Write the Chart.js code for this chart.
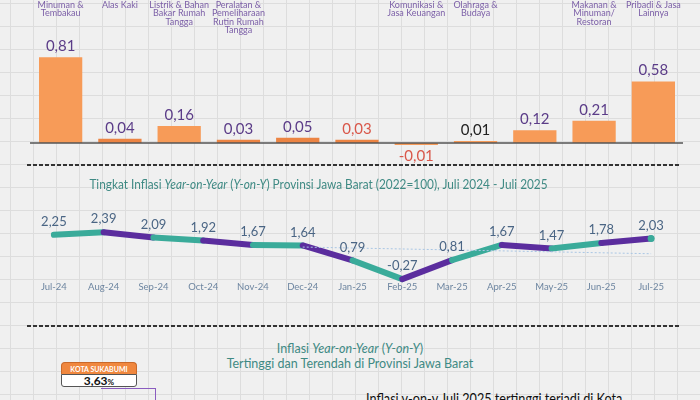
<!DOCTYPE html>
<html>
<head>
<meta charset="utf-8">
<script src="https://cdn.jsdelivr.net/npm/chart.js@4.4.1/dist/chart.umd.min.js"></script>
<style>
    html, body {
        margin: 0;
        padding: 0;
    }
    body {
        width: 700px;
        height: 400px;
        overflow: hidden;
        position: relative;
        font-family: "Lato", "Open Sans", sans-serif;
        background-color: #f0f0f0;
        background-image: linear-gradient(to right, #dddddd 1px, transparent 1px),
            linear-gradient(to bottom, #dddddd 1px, transparent 1px);
        background-size: 23px 23px;
        background-position: 10px 3px;
    }
    .box { position: absolute; }
    .dash {
        position: absolute;
        left: 27px;
        width: 653px;
        height: 2px;
        background: repeating-linear-gradient(to right, #333 0 4px, transparent 4px 6px);
    }
    .judul {
        position: absolute;
        color: #3f8a84;
        font-size: 12.5px;
        white-space: nowrap;
        text-align: center;
    }
</style>
</head>
<body>

<div class="box" style="left:0;top:0;width:700px;height:165px;">
    <canvas id="chart_kelompok" width="700" height="165"></canvas>
</div>

<div class="dash" style="top:164px;"></div>
<div class="judul" style="left:0;width:637px;top:176px;font-size:13px;transform:scaleX(0.91);transform-origin:318.5px 0;">
    Tingkat Inflasi <i>Year-on-Year</i> (<i>Y-on-Y</i>) Provinsi Jawa Barat (2022=100), Juli 2024 - Juli 2025
</div>

<div class="box" style="left:0;top:195px;width:700px;height:100px;">
    <canvas id="chart_yoy" width="700" height="100"></canvas>
</div>

<div class="dash" style="top:325px;"></div>
<div class="judul" style="left:0;width:700px;top:341px;line-height:15px;">
    Inflasi <i>Year-on-Year</i> (<i>Y-on-Y</i>)<br>Tertinggi dan Terendah di Provinsi Jawa Barat
</div>

<!-- callout kota -->
<div class="box" style="left:61px;top:362px;width:76px;height:12px;background:#f0873e;border:1px solid #c9692a;border-bottom:none;border-radius:4px 4px 0 0;box-sizing:border-box;color:#fff;font-size:7px;font-weight:bold;text-align:center;line-height:12px;">KOTA SUKABUMI</div>
<div class="box" style="left:61px;top:374px;width:76px;height:13px;background:#fff;border:1px solid #555;border-radius:0 0 3px 3px;box-sizing:border-box;color:#111;font-size:12px;font-weight:bold;text-align:center;line-height:11px;">3,63<span style="font-size:8px">%</span></div>
<div class="box" style="left:101px;top:388px;width:55px;height:0;border-top:1.5px solid #8a5cc0;"></div>
<div class="box" style="left:155px;top:388px;width:0;height:14px;border-left:1.5px solid #8a5cc0;"></div>

<div class="box" style="left:366px;top:388px;font-size:16px;line-height:20px;color:#111;white-space:nowrap;transform:scaleX(0.79);transform-origin:left top;">Inflasi y-on-y Juli 2025 tertinggi terjadi di Kota</div>

<script>
    // andil inflasi m-to-m per kelompok pengeluaran (yang terlihat di gambar)
    var label_kelompok = [
        ["Minuman &", "Tembakau"],
        ["Alas Kaki"],
        ["Listrik & Bahan", "Bakar Rumah", "Tangga"],
        ["Peralatan &", "Pemeliharaan", "Rutin Rumah", "Tangga"],
        [],
        [],
        ["Komunikasi &", "Jasa Keuangan"],
        ["Olahraga &", "Budaya"],
        [],
        ["Makanan &", "Minuman/", "Restoran"],
        ["Pribadi & Jasa", "Lainnya"],
    ];
    var value_kelompok = [0.81, 0.04, 0.16, 0.03, 0.05, 0.03, -0.01, 0.01, 0.12, 0.21, 0.58];

    // inflasi y-on-y Jawa Barat
    var label_bulan = ["Jul-24", "Aug-24", "Sep-24", "Oct-24", "Nov-24", "Dec-24", "Jan-25",
        "Feb-25", "Mar-25", "Apr-25", "May-25", "Jun-25", "Jul-25"];
    var value_yoy = [2.25, 2.39, 2.09, 1.92, 1.67, 1.64, 0.79, -0.27, 0.81, 1.67, 1.47, 1.78, 2.03];
    var value_tren = [null, null, null, null, null, 1.55, null, null, null, null, null, null, 1.17];

    var ungu = "#5b2d9e";
    var tosca = "#3aab9a";
    var oranye = "#f79b58";

    function koma(v) {
        return v.toFixed(2).replace(".", ",");
    }

    var warna_label = function (i) {
        if (i === 5 || i === 6) return "#d9574a";
        if (i === 7) return "#222222";
        return "#5b3c88";
    };

    var pluginKelompok = {
        id: "pluginKelompok",
        afterDatasetsDraw: function (chart) {
            var c = chart.ctx;
            var meta = chart.getDatasetMeta(0);
            var yScale = chart.scales.y;
            var y0 = yScale.getPixelForValue(0);

            // garis dasar
            c.save();
            c.strokeStyle = "#555555";
            c.lineWidth = 1.5;
            c.beginPath();
            c.moveTo(chart.chartArea.left - 1, y0);
            c.lineTo(chart.chartArea.right, y0);
            c.stroke();

            // angka di atas batang
            c.font = "15px Lato, 'Open Sans', sans-serif";
            c.textAlign = "center";
            c.textBaseline = "middle";
            meta.data.forEach(function (bar, i) {
                var v = value_kelompok[i];
                c.fillStyle = warna_label(i);
                if (v >= 0) {
                    c.fillText(koma(v), bar.x, bar.y - 11);
                } else {
                    c.fillText(koma(v), bar.x, bar.y + 11);
                }
            });

            // nama kelompok di atas
            c.font = "9px Lato, 'Open Sans', sans-serif";
            c.fillStyle = "#7b5ea7";
            meta.data.forEach(function (bar, i) {
                label_kelompok[i].forEach(function (baris, j) {
                    c.fillText(baris, bar.x, 5 + j * 8.3);
                });
            });
            c.restore();
        },
    };

    var ctx_kelompok = document.getElementById("chart_kelompok");
    var chart_kelompok = new Chart(ctx_kelompok, {
        type: "bar",
        data: {
            labels: label_kelompok.map(function (l) { return l.join(" "); }),
            datasets: [
                {
                    data: value_kelompok,
                    backgroundColor: function (ctx) {
                        var v = ctx.raw;
                        return v > 0.02 && v < 0.1 ? "#ec8443" : oranye;
                    },
                    borderWidth: 0,
                    barPercentage: 0.73,
                    categoryPercentage: 1,
                    minBarLength: 2,
                },
            ],
        },
        options: {
            responsive: false,
            animation: false,
            layout: { padding: { left: 31, right: 17, top: 40, bottom: 5 } },
            plugins: { legend: { display: false }, tooltip: { enabled: false } },
            scales: {
                x: { display: false },
                y: { display: false, min: -0.16, max: 0.972 },
            },
        },
        plugins: [pluginKelompok],
    });

    var pluginNilai = {
        id: "pluginNilai",
        afterDatasetsDraw: function (chart) {
            var c = chart.ctx;
            var meta = chart.getDatasetMeta(1);
            c.save();
            c.font = "13px Lato, 'Open Sans', sans-serif";
            c.fillStyle = "#4a6584";
            c.textAlign = "center";
            c.textBaseline = "middle";
            meta.data.forEach(function (pt, i) {
                c.fillText(koma(value_yoy[i]), pt.x, pt.y - 13);
            });
            c.restore();
        },
    };

    var ctx_yoy = document.getElementById("chart_yoy");
    var chart_yoy = new Chart(ctx_yoy, {
        type: "line",
        data: {
            labels: label_bulan,
            datasets: [
                {
                    data: value_tren,
                    borderColor: "#a9c6e4",
                    borderWidth: 1,
                    borderDash: [2, 2],
                    pointRadius: 0,
                    spanGaps: true,
                },
                {
                    data: value_yoy,
                    borderWidth: 6,
                    borderCapStyle: "round",
                    borderJoinStyle: "round",
                    borderColor: tosca,
                    segment: {
                        borderColor: function (ctx) {
                            return ctx.p0DataIndex % 2 === 0 ? tosca : ungu;
                        },
                    },
                    pointRadius: function (ctx) {
                        return ctx.dataIndex === value_yoy.length - 1 ? 3.5 : 0;
                    },
                    pointBackgroundColor: tosca,
                    pointBorderWidth: 0,
                    clip: false,
                },
            ],
        },
        options: {
            responsive: false,
            animation: false,
            layout: { padding: { left: 29, right: 24, top: 18, bottom: 0 } },
            plugins: { legend: { display: false }, tooltip: { enabled: false } },
            scales: {
                x: {
                    offset: true,
                    grid: { display: false, drawTicks: false },
                    border: { display: false },
                    ticks: {
                        color: "#6d85a0",
                        font: { size: 9.5, family: "Lato, 'Open Sans', sans-serif" },
                        padding: 2,
                        maxRotation: 0,
                        autoSkip: false,
                    },
                },
                y: { display: false, min: -0.30, max: 3.486 },
            },
        },
        plugins: [pluginNilai],
    });
</script>
</body>
</html>
